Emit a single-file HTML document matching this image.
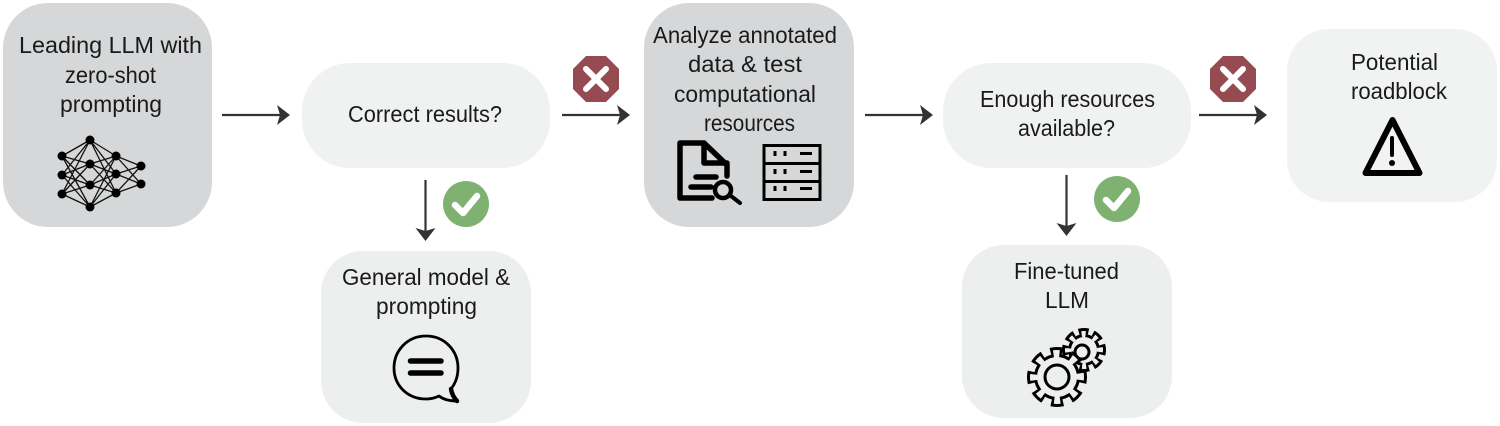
<!DOCTYPE html>
<html><head><meta charset="utf-8"><style>
html,body{margin:0;padding:0;background:#fff}
svg{display:block}
text{font-family:"Liberation Sans",sans-serif;font-size:23px;fill:#1a1a1a}
</style></head><body>
<svg width="1500" height="426" viewBox="0 0 1500 426" xmlns="http://www.w3.org/2000/svg">
<defs>
<g id="right"><path d="M0 0H62" stroke="#333" stroke-width="2.200" fill="none"/><path d="M68 0L55 -10L58 0L55 10Z" fill="#333"/></g>
<g id="down"><path d="M0 0V55" stroke="#333" stroke-width="2.200" fill="none"/><path d="M0 61L-10 48L0 51L10 48Z" fill="#333"/></g>
<g id="check"><circle r="23" fill="#7fb270"/><path d="M-11 1L-3 9L11 -8" stroke="#fff" stroke-width="6.500" fill="none" stroke-linecap="round" stroke-linejoin="round"/></g>
<g id="stop"><path d="M-10 -23H10L23 -10V10L10 23H-10L-23 10V-10Z" fill="#964b52"/><path d="M-10 -10L10 10M10 -10L-10 10" stroke="#fff" stroke-width="6" stroke-linecap="round"/></g>
</defs>
<rect x="3" y="3" width="209" height="224" rx="45" fill="#d6d7d8"/>
<rect x="302" y="63" width="248" height="105" rx="48" fill="#f0f1f1"/>
<rect x="321" y="251" width="210" height="172" rx="42" fill="#edefee"/>
<rect x="644" y="3" width="210" height="224" rx="45" fill="#d6d7d8"/>
<rect x="943" y="63" width="248" height="105" rx="48" fill="#f0f1f1"/>
<rect x="962" y="245" width="210" height="173" rx="42" fill="#edefee"/>
<rect x="1287" y="29" width="210" height="173" rx="42" fill="#f1f2f2"/>

<use href="#right" x="222" y="115"/>
<use href="#right" x="562" y="115"/>
<use href="#right" x="865" y="115"/>
<use href="#right" x="1199" y="115"/>
<use href="#down" x="425.500" y="180"/>
<use href="#down" x="1066.500" y="175"/>

<use href="#check" x="466" y="204"/>
<use href="#check" x="1117" y="199"/>
<use href="#stop" x="596" y="79"/>
<use href="#stop" x="1233" y="79"/>

<g>
<text x="19" y="53" textLength="183" lengthAdjust="spacingAndGlyphs">Leading LLM with</text>
<text x="65" y="83" textLength="91" lengthAdjust="spacingAndGlyphs">zero-shot</text>
<text x="60" y="112" textLength="102" lengthAdjust="spacingAndGlyphs">prompting</text>
<text x="348" y="122" textLength="154" lengthAdjust="spacingAndGlyphs">Correct results?</text>
<text x="342" y="285" textLength="168" lengthAdjust="spacingAndGlyphs">General model &amp;</text>
<text x="376" y="314" textLength="101" lengthAdjust="spacingAndGlyphs">prompting</text>
<text x="653" y="43" textLength="184" lengthAdjust="spacingAndGlyphs">Analyze annotated</text>
<text x="688" y="72" textLength="114" lengthAdjust="spacingAndGlyphs">data &amp; test</text>
<text x="674" y="102" textLength="142" lengthAdjust="spacingAndGlyphs">computational</text>
<text x="704" y="131" textLength="91" lengthAdjust="spacingAndGlyphs">resources</text>
<text x="980" y="107" textLength="175" lengthAdjust="spacingAndGlyphs">Enough resources</text>
<text x="1018" y="136" textLength="97" lengthAdjust="spacingAndGlyphs">available?</text>
<text x="1014" y="279" textLength="105" lengthAdjust="spacingAndGlyphs">Fine-tuned</text>
<text x="1045" y="308" textLength="44" lengthAdjust="spacingAndGlyphs">LLM</text>
<text x="1351" y="70" textLength="87" lengthAdjust="spacingAndGlyphs">Potential</text>
<text x="1351" y="99" textLength="96" lengthAdjust="spacingAndGlyphs">roadblock</text>
</g>

<!-- neural net -->
<g stroke="#111" stroke-width="1.300">
<path d="M62 156L90 140M62 156L90 164M62 156L90 185M62 156L90 207M62 175L90 140M62 175L90 164M62 175L90 185M62 175L90 207M62 194L90 140M62 194L90 164M62 194L90 185M62 194L90 207"/>
<path d="M90 140L116 156M90 140L116 174M90 140L116 193M90 164L116 156M90 164L116 174M90 164L116 193M90 185L116 156M90 185L116 174M90 185L116 193M90 207L116 156M90 207L116 174M90 207L116 193"/>
<path d="M116 156L141 166M116 156L141 184M116 174L141 166M116 174L141 184M116 193L141 166M116 193L141 184"/>
</g>
<g fill="#000">
<circle cx="62" cy="156" r="4.500"/><circle cx="62" cy="175" r="4.500"/><circle cx="62" cy="194" r="4.500"/>
<circle cx="90" cy="140" r="4.500"/><circle cx="90" cy="164" r="4.500"/><circle cx="90" cy="185" r="4.500"/><circle cx="90" cy="207" r="4.500"/>
<circle cx="116" cy="156" r="4.500"/><circle cx="116" cy="174" r="4.500"/><circle cx="116" cy="193" r="4.500"/>
<circle cx="141" cy="166" r="4.500"/><circle cx="141" cy="184" r="4.500"/>
</g>

<!-- chat -->
<path d="M426 336C445 336 458 351 458 368C458 377 455 384 451 389C452 395 454 398 457 401C450 401 444 400 439 396C435 398 431 399 426 399C407 399 394 385 394 368C394 351 407 336 426 336Z" fill="none" stroke="#000" stroke-width="2.800" stroke-linejoin="round"/>
<path d="M451 389C452 395 454 398 457 401" fill="none" stroke="#000" stroke-width="4.500" stroke-linecap="round"/>
<path d="M410.500 361H441M410.500 373H441" stroke="#000" stroke-width="5.500" stroke-linecap="round"/>

<!-- doc -->
<g fill="none" stroke="#000" stroke-width="5.500" stroke-linejoin="round" stroke-linecap="round">
<path d="M712 198H680V143H704L727 165V176"/>
<path d="M704 143V163H727"/>
<path d="M696 177H716M691 187H711"/>
<circle cx="723" cy="190" r="8" stroke-width="4.500"/>
<path d="M731 196L740 203" stroke-width="4"/>
</g>
<!-- server -->
<g fill="none" stroke="#000" stroke-width="3">
<rect x="764" y="145.500" width="56" height="54"/>
<path d="M764 163.500H820M764 181.500H820"/>
<path d="M775 151V156M785 151V156M775 169V174M785 169V174M775 186V191M785 186V191" stroke-width="3"/>
<path d="M800 153.500H812M800 171.500H812M800 188.500H812"/>
</g>

<!-- gears: small gear first, big gear over it -->
<g fill="none">
<circle cx="1084" cy="350" r="16" fill="#000"/>
<circle cx="1084" cy="350" r="19" stroke="#000" stroke-width="6" pathLength="80" stroke-dasharray="6.700 3.300" stroke-dashoffset="3.350"/>
<circle cx="1084" cy="350" r="13" fill="#edefee"/>
<circle cx="1084" cy="350" r="16" stroke="#edefee" stroke-width="6" pathLength="80" stroke-dasharray="3.200 6.800" stroke-dashoffset="1.600"/>
<circle cx="1082" cy="352" r="7" stroke="#000" stroke-width="3"/>
<circle cx="1057" cy="377" r="23" fill="#000"/>
<circle cx="1057" cy="377" r="26" stroke="#000" stroke-width="8" pathLength="80" stroke-dasharray="5.900 4.100" stroke-dashoffset="2.950"/>
<circle cx="1057" cy="377" r="20" fill="#edefee"/>
<circle cx="1057" cy="377" r="23" stroke="#edefee" stroke-width="8" pathLength="80" stroke-dasharray="3.300 6.700" stroke-dashoffset="1.650"/>
<circle cx="1057" cy="377" r="12" stroke="#000" stroke-width="3"/>
</g>

<!-- warning -->
<path d="M1392.500 120L1419.500 173H1365.500Z" fill="none" stroke="#000" stroke-width="6" stroke-linejoin="round"/>
<path d="M1392 138V155" stroke="#000" stroke-width="4" stroke-linecap="round"/>
<circle cx="1392" cy="163" r="3" fill="#000"/>
</svg>
</body></html>
